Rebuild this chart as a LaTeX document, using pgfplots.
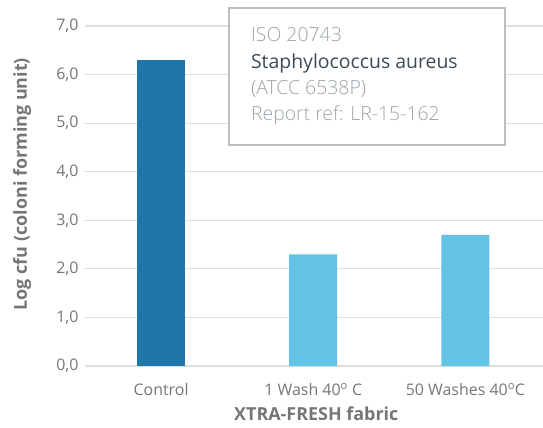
\documentclass[border=0pt]{standalone}
\usepackage{pgfplots}
\pgfplotsset{compat=1.18}
\usepackage{fontspec}
\setmainfont{Open Sans}
\IfFontExistsTF{Open Sans Light}{\newfontfamily\lightfont{Open Sans Light}}{\IfFontExistsTF{Lato Light}{\newfontfamily\lightfont{Lato Light}}{\newfontfamily\lightfont{Open Sans}}}
\definecolor{darkbar}{RGB}{31,119,168}
\definecolor{lightbar}{RGB}{99,195,229}
\definecolor{txtgrey}{RGB}{118,118,118}
\definecolor{gridgrey}{RGB}{222,222,222}
\definecolor{boxgrey}{RGB}{190,190,190}
\definecolor{boxtext}{RGB}{155,165,170}
\definecolor{boxdark}{RGB}{60,75,85}
\begin{document}
\begin{tikzpicture}[x=1bp,y=1bp]
\useasboundingbox (0,0) rectangle (543,427);
\begin{axis}[
  at={(85bp,61bp)}, anchor=south west,
  scale only axis, width=458bp, height=340bp,
  xmin=-0.5, xmax=2.51, ymin=0, ymax=7,
  axis line style={draw=none},
  ytick={0,1,...,7},
  yticklabels={0{,}0,1{,}0,2{,}0,3{,}0,4{,}0,5{,}0,6{,}0,7{,}0},
  xtick={0,1,2},
  xticklabels={Control,1 Wash 40\textsuperscript{o} C,50 Washes 40\textsuperscript{o}C},
  major tick length=0pt,
  ymajorgrids, grid style={gridgrey, line width=1.2bp},
  tick label style={txtgrey, font=\fontsize{16}{18}\selectfont},
  yticklabel style={xshift=-3bp},
  xticklabel style={yshift=-14bp},
  ylabel={\textbf{Log cfu (coloni forming unit)}},
  xlabel={\textbf{XTRA-FRESH fabric}},
  label style={txtgrey, font=\fontsize{18}{20}\selectfont},
  ylabel style={at={(axis description cs:-0.137,0.535)}, anchor=center},
  xlabel style={at={(axis description cs:0.505,0)}, anchor=center, yshift=-48bp},
  clip=false,
  bar width=48bp,
]
\addplot[ybar, fill=darkbar, draw=none] coordinates {(0,6.3)};
\addplot[ybar, fill=lightbar, draw=none] coordinates {(1,2.3) (2,2.7)};
\draw[boxgrey, line width=1.5bp, fill=white] (axis cs:0.445,7.37) rectangle (axis cs:2.26,4.55);
\node[anchor=north west, align=left, font=\fontsize{19.5}{26.5}\selectfont, inner sep=0pt] at (axis cs:0.59,6.97) {%
  \textcolor{boxtext}{\lightfont ISO 20743}\\
  \textcolor{boxdark}{Staphylococcus aureus}\\
  \textcolor{boxtext}{\lightfont (ATCC 6538P)}\\
  \textcolor{boxtext}{\lightfont Report ref: LR-15-162}};
\end{axis}
\end{tikzpicture}
\end{document}
